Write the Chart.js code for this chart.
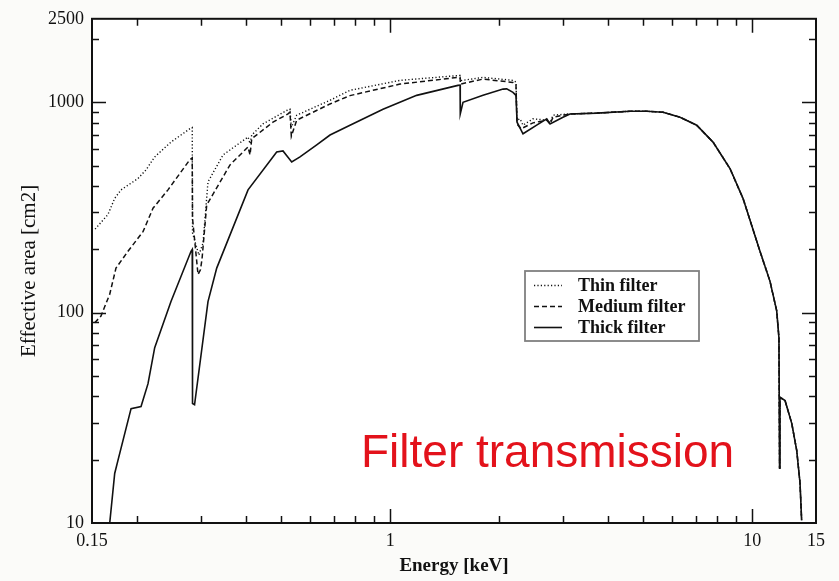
<!DOCTYPE html>
<html><head><meta charset="utf-8">
<script src="https://cdn.jsdelivr.net/npm/chart.js@4.4.0/dist/chart.umd.min.js"></script>
<style>
html,body{margin:0;padding:0;background:#fbfbf9;}
#wrap{position:relative;width:839px;height:581px;}
</style></head><body>
<div id="wrap"><canvas id="c" width="839" height="581"></canvas></div>
<script>
// ---- data (energy in keV, effective area in cm2) ----
const thinE = [0.153, 0.166, 0.1733, 0.1804, 0.201, 0.2115, 0.2235, 0.2479, 0.2792, 0.2838, 0.2843, 0.2960, 0.3040, 0.3137, 0.3452, 0.4047, 0.4099, 0.4143, 0.4451, 0.5175, 0.5285, 0.533, 0.5515, 0.6817, 0.774, 1.064, 1.526, 1.559, 1.562, 1.804, 2.183, 2.225, 2.24, 2.283, 2.3265, 2.479, 2.706, 2.763, 2.816];
const thinA = [250, 293, 350, 384, 435, 478, 551, 648, 749, 760, 240, 188, 215, 419, 563, 685, 637, 700, 791, 916, 928, 763, 870, 1024, 1142, 1274, 1341, 1345, 1270, 1316, 1274, 1250, 824, 836, 780, 836, 824, 800, 870];

const mediumE = [0.1526, 0.1588, 0.1679, 0.1747, 0.1886, 0.2075, 0.2211, 0.2432, 0.2792, 0.2838, 0.2843, 0.2944, 0.2990, 0.3020, 0.3111, 0.3609, 0.4047, 0.4099, 0.4143, 0.4743, 0.5218, 0.5285, 0.533, 0.5515, 0.6817, 0.774, 1.064, 1.5386, 1.559, 1.562, 1.804, 2.183, 2.225, 2.24, 2.30, 2.479, 2.706, 2.763, 2.816];
const mediumA = [89.6, 96.4, 122.5, 163, 196, 243, 314, 384, 533, 545, 281, 152, 160, 180, 325, 505, 614, 563, 672, 806, 882, 899, 690, 824, 984, 1078, 1223, 1316, 1318, 1223, 1292, 1246, 1210, 790, 750, 800, 824, 790, 851];

const thickE = [0.1679, 0.1733, 0.177, 0.1923, 0.2049, 0.2142, 0.2235, 0.2479, 0.2816, 0.2838, 0.2843, 0.2880, 0.3137, 0.3316, 0.4047, 0.4856, 0.5055, 0.5343, 0.5632, 0.6264, 0.6817, 0.774, 0.955, 1.183, 1.538, 1.559, 1.561, 1.5885, 1.804, 2.049, 2.097, 2.183, 2.225, 2.24, 2.3265, 2.538, 2.706, 2.763, 3.0];
const thickA = [10, 17.2, 19.9, 35, 35.8, 46, 68.2, 113, 196, 200, 37, 36.5, 113, 163, 384, 581, 588, 521, 551, 628, 700, 780, 929, 1081, 1206, 1210, 882, 1002, 1081, 1158, 1160, 1117, 1080, 806, 710, 780, 836, 791, 851];

// common high-energy part of all three curves
const tailE = [3.137, 3.719, 4.595, 5.111, 5.668, 6.316, 7.022, 7.791, 8.679, 9.427, 10.504, 11.195, 11.683, 11.85, 11.9, 11.93, 12.32, 12.86, 13.27, 13.55, 13.69];
const tailA = [882, 890, 908, 908, 899, 851, 780, 648, 485, 350, 196, 141, 102, 76, 18.2, 39.6, 38.2, 29.7, 22.1, 15.5, 10.3];

const seriesNames = ['Thin filter', 'Medium filter', 'Thick filter'];

const xTickValues = [0.15,0.2,0.3,0.4,0.5,0.6,0.7,0.8,0.9,1,2,3,4,5,6,7,8,9,10,15];
const xMajorValues = [1, 10];
const xLabelValues = [0.15, 1, 10, 15];
const xLabelTexts = ['0.15', '1', '10', '15'];

const yTickValues = [10,20,30,40,50,60,70,80,90,100,200,300,400,500,600,700,800,900,1000,2000,2500];
const yMajorValues = [10, 100, 1000];
const yLabelValues = [10, 100, 1000, 2500];
const yLabelTexts = ['10', '100', '1000', '2500'];

const annotationText = 'Filter transmission';

// ---- build ----
function pts(E, A){ return E.map((e,i)=>({x:e, y:A[i]})); }
function labelFor(vals, texts, v){
  const i = vals.findIndex(t => Math.abs(t - v) < 1e-9 * Math.max(1, t));
  return i >= 0 ? texts[i] : '';
}

const serif = "'Liberation Serif', 'Times New Roman', serif";

const framePlugin = {
  id: 'frame',
  beforeDraw(chart){
    const {ctx, chartArea:a} = chart;
    ctx.save();
    ctx.fillStyle = '#fbfbf9';
    ctx.fillRect(0,0,chart.width,chart.height);
    ctx.fillStyle = '#ffffff';
    ctx.fillRect(a.left, a.top, a.right-a.left, a.bottom-a.top);
    ctx.restore();
  },
  afterDatasetsDraw(chart){
    const {ctx, chartArea:a} = chart;
    const xs = chart.scales.x, ys = chart.scales.y;
    ctx.save();
    ctx.strokeStyle = '#111';
    ctx.lineWidth = 1.5;
    ctx.beginPath();
    xTickValues.forEach(v=>{
      if (v <= xs.min || v >= xs.max) return;
      const p = Math.round(xs.getPixelForValue(v)) + 0.5;
      const L = xMajorValues.includes(v) ? 14 : 7;
      ctx.moveTo(p, a.bottom); ctx.lineTo(p, a.bottom - L);
      ctx.moveTo(p, a.top); ctx.lineTo(p, a.top + L);
    });
    yTickValues.forEach(v=>{
      if (v <= ys.min || v >= ys.max) return;
      const p = Math.round(ys.getPixelForValue(v)) + 0.5;
      const L = yMajorValues.includes(v) ? 14 : 7;
      ctx.moveTo(a.left, p); ctx.lineTo(a.left + L, p);
      ctx.moveTo(a.right, p); ctx.lineTo(a.right - L, p);
    });
    ctx.stroke();
    ctx.lineWidth = 2;
    ctx.strokeRect(a.left, a.top, a.right - a.left, a.bottom - a.top);

    // legend
    const lx = 525, ly = 271, lw = 174, lh = 70;
    ctx.fillStyle = '#fff';
    ctx.fillRect(lx, ly, lw, lh);
    ctx.strokeStyle = '#808080';
    ctx.lineWidth = 1.8;
    ctx.strokeRect(lx, ly, lw, lh);
    const rows = [285, 306, 327];
    chart.data.datasets.forEach((ds, i)=>{
      ctx.beginPath();
      ctx.strokeStyle = '#111';
      ctx.lineWidth = ds.borderWidth;
      ctx.setLineDash(ds.borderDash || []);
      ctx.moveTo(534, rows[i] + 0.5);
      ctx.lineTo(562, rows[i] + 0.5);
      ctx.stroke();
      ctx.setLineDash([]);
      ctx.fillStyle = '#111';
      ctx.font = "bold 18px " + serif;
      ctx.textBaseline = 'middle';
      ctx.textAlign = 'left';
      ctx.fillText(ds.label, 578, rows[i] + 1);
    });

    // annotation
    ctx.fillStyle = '#e3121b';
    ctx.font = "46px 'Liberation Sans', Arial, sans-serif";
    ctx.textBaseline = 'alphabetic';
    ctx.fillText(annotationText, 361, 467);
    ctx.restore();
  }
};

const styles = [
  {borderDash:[1.2, 2.2], borderWidth:1.4},
  {borderDash:[5, 3], borderWidth:1.5},
  {borderDash:[], borderWidth:1.6}
];
const seriesE = [thinE.concat(tailE), mediumE.concat(tailE), thickE.concat(tailE)];
const seriesA = [thinA.concat(tailA), mediumA.concat(tailA), thickA.concat(tailA)];

new Chart(document.getElementById('c'), {
  type: 'line',
  data: {
    datasets: seriesNames.map((n, i)=>({
      label: n,
      data: pts(seriesE[i], seriesA[i]),
      borderColor: '#111',
      borderWidth: styles[i].borderWidth,
      borderDash: styles[i].borderDash,
      pointRadius: 0,
      tension: 0,
      fill: false,
      borderCapStyle: 'butt'
    }))
  },
  options: {
    responsive: false,
    animation: false,
    devicePixelRatio: 1,
    layout: {padding: {top: 16, right: 23, left: 0, bottom: 0}},
    plugins: {legend: {display: false}, tooltip: {enabled: false}},
    scales: {
      x: {
        type: 'logarithmic', min: 0.15, max: 15, position: 'bottom',
        afterFit(s){ s.height = 58; },
        afterBuildTicks(s){ s.ticks = xTickValues.map(v=>({value:v})); },
        grid: {display: false, drawTicks: false},
        border: {display: false},
        ticks: {autoSkip: false, maxRotation: 0, padding: 7, color: '#111',
          font: {family: serif, size: 18},
          callback: (v)=> labelFor(xLabelValues, xLabelTexts, v)},
        title: {display: true, text: 'Energy [keV]', color: '#111',
          font: {family: serif, size: 19, weight: 'bold'}, padding: {top: 0, bottom: 4}}
      },
      y: {
        type: 'logarithmic', min: 10, max: 2500, position: 'left',
        afterFit(s){ s.width = 92; },
        afterBuildTicks(s){ s.ticks = yTickValues.map(v=>({value:v})); },
        grid: {display: false, drawTicks: false},
        border: {display: false},
        ticks: {autoSkip: false, padding: 8, color: '#111',
          font: {family: serif, size: 18},
          callback: (v)=> labelFor(yLabelValues, yLabelTexts, v)},
        title: {display: true, text: 'Effective area [cm2]', color: '#111',
          font: {family: serif, size: 21}, padding: {top: 17, bottom: 0}}
      }
    }
  },
  plugins: [framePlugin]
});
</script>
</body></html>
